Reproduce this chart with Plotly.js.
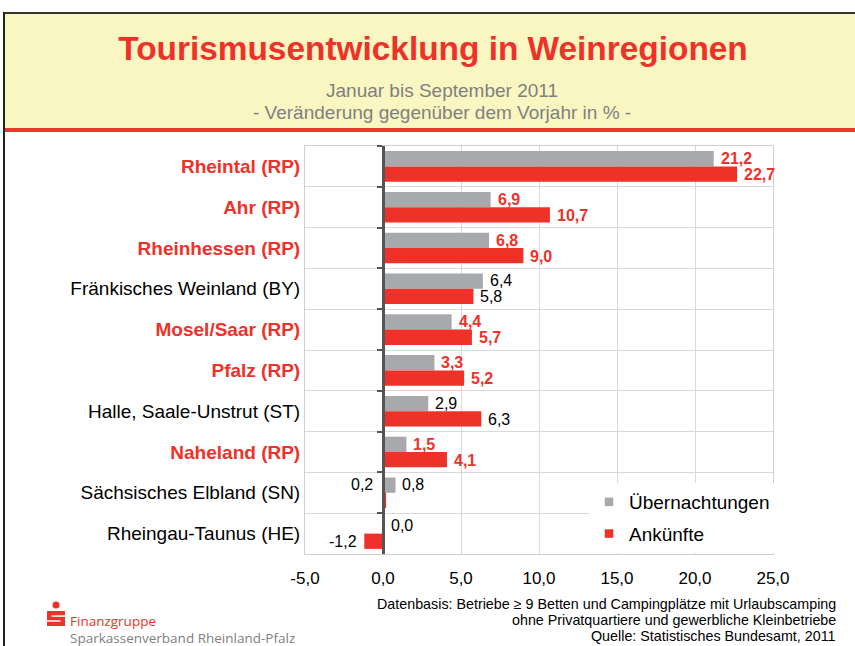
<!DOCTYPE html>
<html>
<head>
<meta charset="utf-8">
<script src="https://cdn.plot.ly/plotly-3.0.1.min.js"></script>
<style>html,body{margin:0;padding:0;background:#fff;}#chart{width:855px;height:646px;}</style>
</head>
<body>
<div id="chart"></div>
<script>
const categories = ['Rheintal (RP)', 'Ahr (RP)', 'Rheinhessen (RP)', 'Fränkisches Weinland (BY)', 'Mosel/Saar (RP)', 'Pfalz (RP)', 'Halle, Saale-Unstrut (ST)', 'Naheland (RP)', 'Sächsisches Elbland (SN)', 'Rheingau-Taunus (HE)'];
const uebernachtungen = [21.2, 6.9, 6.8, 6.4, 4.4, 3.3, 2.9, 1.5, 0.8, 0.0];
const ankuenfte = [22.7, 10.7, 9.0, 5.8, 5.7, 5.2, 6.3, 4.1, 0.2, -1.2];
const seriesNames = ['Übernachtungen', 'Ankünfte'];
const xTicks = [-5, 0, 5, 10, 15, 20, 25];
const titleText = 'Tourismusentwicklung in Weinregionen';
const subtitleLines = ['Januar bis September 2011', '- Veränderung gegenüber dem Vorjahr in % -'];
const footerLines = ['Datenbasis: Betriebe ≥ 9 Betten und Campingplätze mit Urlaubscamping', 'ohne Privatquartiere und gewerbliche Kleinbetriebe', 'Quelle: Statistisches Bundesamt, 2011'];
const logoLines = ['Finanzgruppe', 'Sparkassenverband Rheinland-Pfalz'];

const W = 855, H = 646;
const M = {l: 305, r: 82, t: 146, b: 92};
const PW = W - M.l - M.r, PH = H - M.t - M.b;
const px = x => (x - M.l) / PW;
const py = y => (H - M.b - y) / PH;

const RED = '#ee3129', GRAY = '#a7a9ac', FONT = 'Liberation Sans, Arial, sans-serif';
const fmt = v => v.toFixed(1).replace('.', ',');
const isRP = c => c.indexOf('(RP)') >= 0;

const traces = [
  {type: 'bar', orientation: 'h', name: seriesNames[0], y: categories, x: uebernachtungen,
   marker: {color: GRAY}, showlegend: false, hoverinfo: 'skip'},
  {type: 'bar', orientation: 'h', name: seriesNames[1], y: categories, x: ankuenfte,
   marker: {color: RED}, showlegend: false, hoverinfo: 'skip'},
  {type: 'scatter', mode: 'markers', name: seriesNames[0], x: [null], y: [null], legendgroup: 'g0',
   marker: {color: GRAY, symbol: 'square', size: 8.5}, hoverinfo: 'skip'},
  {type: 'scatter', mode: 'markers', name: seriesNames[1], x: [null], y: [null], legendgroup: 'g1',
   marker: {color: RED, symbol: 'square', size: 8.5}, hoverinfo: 'skip'},
  {type: 'scatter', mode: 'markers', x: categories.map(() => 0), y: categories, yaxis: 'y2',
   marker: {opacity: 0}, showlegend: false, hoverinfo: 'skip'}
];

const annotations = [];
[uebernachtungen, ankuenfte].forEach((vals, s) => {
  vals.forEach((v, i) => {
    const c = categories[i];
    const rp = isRP(c);
    let a = {x: v, y: c, xref: 'x', yref: 'y', text: rp ? '<b>' + fmt(v) + '</b>' : fmt(v),
      showarrow: false, font: {family: FONT, size: 16, color: rp ? RED : '#000'},
      yanchor: 'middle', yshift: s === 0 ? 8 : -8};
    if (v < 0) { a.xanchor = 'right'; a.xshift = -5; }
    else if (s === 1 && v < 0.5) { a.x = 0; a.xanchor = 'right'; a.xshift = -8; a.yshift = 8; }
    else { a.xanchor = 'left'; a.xshift = v === 0 ? 6 : 5; }
    annotations.push(a);
  });
});

annotations.push({xref: 'paper', yref: 'paper', x: px(442), y: py(90), text: subtitleLines[0], showarrow: false,
  font: {family: FONT, size: 19, color: '#808080'}, xanchor: 'center', yanchor: 'middle'});
annotations.push({xref: 'paper', yref: 'paper', x: px(442), y: py(112), text: subtitleLines[1], showarrow: false,
  font: {family: FONT, size: 19, color: '#808080'}, xanchor: 'center', yanchor: 'middle'});
footerLines.forEach((t, i) => annotations.push({xref: 'paper', yref: 'paper', x: px(838), y: py(604 + 16 * i), text: t,
  showarrow: false, font: {family: FONT, size: 14.3, color: '#000'}, xanchor: 'right', yanchor: 'middle'}));
annotations.push({xref: 'paper', yref: 'paper', x: px(69), y: py(620.5), text: logoLines[0], showarrow: false,
  font: {family: 'Open Sans, sans-serif', size: 13.5, color: RED}, xanchor: 'left', yanchor: 'middle', borderpad: 0});
annotations.push({xref: 'paper', yref: 'paper', x: px(69), y: py(637.5), text: logoLines[1], showarrow: false,
  font: {family: 'Open Sans, sans-serif', size: 13.5, color: '#808080'}, xanchor: 'left', yanchor: 'middle', borderpad: 0});

const shapes = [
  {type: 'rect', xref: 'paper', yref: 'paper', x0: px(3), x1: px(W), y0: py(14), y1: py(129), fillcolor: '#faf6c2', line: {width: 0}, layer: 'below'},
  {type: 'rect', xref: 'paper', yref: 'paper', x0: px(3), x1: px(W), y0: py(128), y1: py(132), fillcolor: '#e8392b', line: {width: 0}, layer: 'below'},
  {type: 'line', xref: 'paper', yref: 'paper', x0: px(3), x1: px(W), y0: py(13), y1: py(13), line: {color: '#333', width: 2}},
  {type: 'line', xref: 'paper', yref: 'paper', x0: px(4), x1: px(4), y0: py(12), y1: py(H), line: {color: '#222', width: 2}},
  // Sparkasse logo
  {type: 'circle', xref: 'paper', yref: 'paper', x0: px(52.5), x1: px(59.5), y0: py(601.5), y1: py(608.5), fillcolor: RED, line: {width: 0}},
  {type: 'rect', xref: 'paper', yref: 'paper', x0: px(47), x1: px(65), y0: py(611), y1: py(626), fillcolor: RED, line: {width: 0}},
  {type: 'rect', xref: 'paper', yref: 'paper', x0: px(51.5), x1: px(65), y0: py(615.3), y1: py(616.8), fillcolor: '#fff', line: {width: 0}},
  {type: 'rect', xref: 'paper', yref: 'paper', x0: px(47), x1: px(60.5), y0: py(620.2), y1: py(621.7), fillcolor: '#fff', line: {width: 0}}
];

const ticktext = categories.map(c => isRP(c) ? '<b><span style="color:' + RED + '">' + c + '</span></b>' : c);
const zeroPos = (0 - xTicks[0]) / (xTicks[xTicks.length - 1] - xTicks[0]);

const layout = {
  width: W, height: H, autosize: false,
  margin: M,
  paper_bgcolor: 'rgba(0,0,0,0)', plot_bgcolor: '#fff',
  separators: ',.',
  font: {family: FONT, color: '#000'},
  title: {text: '<b>' + titleText + '</b>', font: {family: FONT, size: 33.4, color: RED},
    x: px(433), xref: 'paper', xanchor: 'center', y: 1 - 48 / H, yref: 'container', yanchor: 'middle'},
  barmode: 'group', bargap: 0.25, bargroupgap: 0,
  xaxis: {range: [xTicks[0], xTicks[xTicks.length - 1]], tickvals: xTicks, ticktext: xTicks.map(fmt),
    showgrid: true, gridcolor: '#d9d9d9', gridwidth: 1, zeroline: false,
    showline: true, linecolor: '#cfcfcf', linewidth: 1, mirror: true,
    ticks: 'outside', ticklen: 9, tickcolor: 'rgba(0,0,0,0)',
    tickfont: {family: FONT, size: 17, color: '#000'}, fixedrange: true},
  yaxis: {type: 'category', categoryorder: 'array', categoryarray: categories, range: [categories.length - 0.5, -0.5],
    tickvals: categories, ticktext: ticktext, tickson: 'boundaries',
    showgrid: true, gridcolor: '#d9d9d9', gridwidth: 1,
    showline: true, linecolor: '#cfcfcf', linewidth: 1, mirror: true,
    ticks: 'outside', ticklen: 10, tickcolor: 'rgba(0,0,0,0)',
    tickfont: {family: FONT, size: 19, color: '#000'}, fixedrange: true},
  yaxis2: {type: 'category', overlaying: 'y', anchor: 'free', position: zeroPos, side: 'left',
    categoryorder: 'array', categoryarray: categories, range: [categories.length - 0.5, -0.5],
    showline: true, linecolor: '#555', linewidth: 3, ticks: 'outside', tickson: 'boundaries',
    ticklen: 5, tickwidth: 2, tickcolor: '#555', showticklabels: false, showgrid: false, zeroline: false, fixedrange: true},
  legend: {x: px(589), y: py(483), xanchor: 'left', yanchor: 'top', bgcolor: '#fff',
    font: {family: FONT, size: 19, color: '#000'}, itemwidth: 30, tracegroupgap: 4, traceorder: 'grouped'},
  annotations: annotations,
  shapes: shapes
};

Plotly.newPlot('chart', traces, layout, {displayModeBar: false, staticPlot: true});
</script>
</body>
</html>
